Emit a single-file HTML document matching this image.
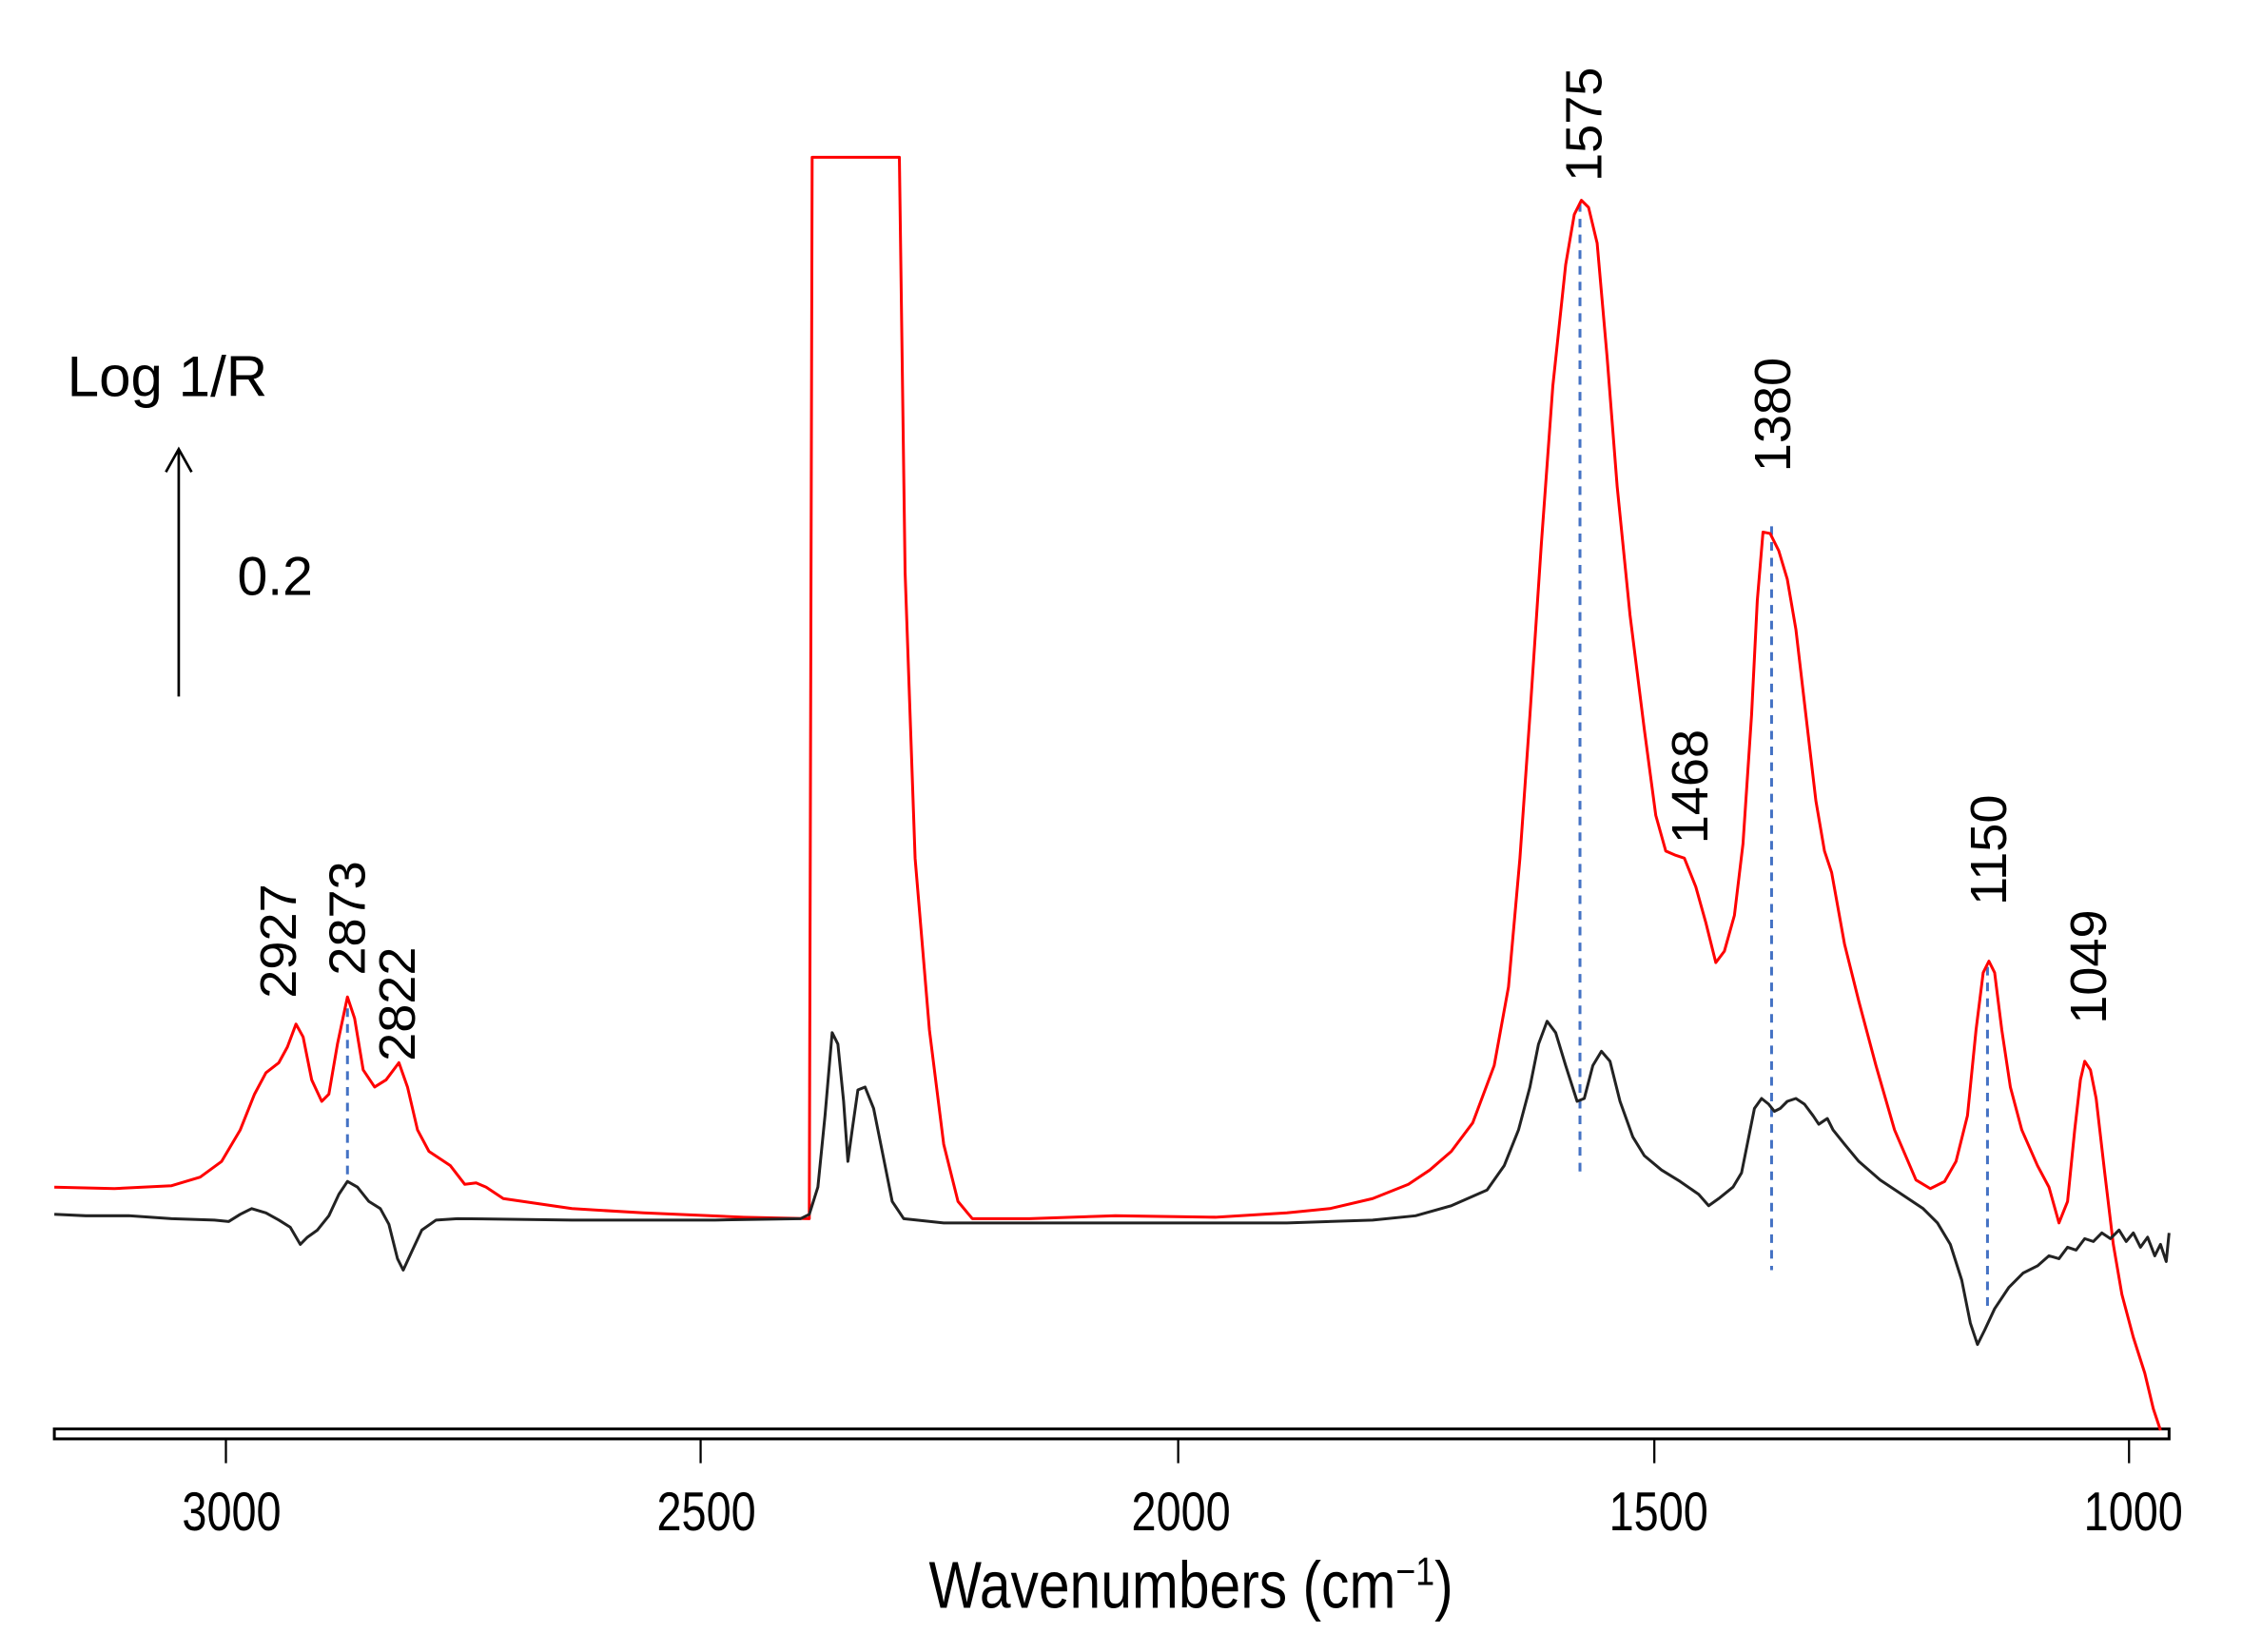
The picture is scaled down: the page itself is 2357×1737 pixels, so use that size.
<!DOCTYPE html>
<html><head><meta charset="utf-8"><style>
html,body{margin:0;padding:0;background:#fff;}
svg{display:block;}
text{font-family:"Liberation Sans","DejaVu Sans",sans-serif;fill:#000;}
</style></head><body>
<svg width="2357" height="1737" viewBox="0 0 1568 1155" preserveAspectRatio="none" xmlns="http://www.w3.org/2000/svg">
<rect width="1568" height="1155" fill="#fff"/>
<!-- axis bar -->
<rect x="38" y="999" width="1479" height="7" fill="#fff" stroke="#000" stroke-width="2"/>
<g stroke="#000" stroke-width="1.5">
<line x1="158" y1="1006" x2="158" y2="1023"/>
<line x1="490" y1="1006" x2="490" y2="1023"/>
<line x1="824" y1="1006" x2="824" y2="1023"/>
<line x1="1157" y1="1006" x2="1157" y2="1023"/>
<line x1="1489" y1="1006" x2="1489" y2="1023"/>
</g>
<g font-size="38" text-anchor="middle">
<text x="162" y="1070" transform="translate(162 0) scale(0.82 1) translate(-162 0)">3000</text>
<text x="494" y="1070" transform="translate(494 0) scale(0.82 1) translate(-494 0)">2500</text>
<text x="826" y="1070" transform="translate(826 0) scale(0.82 1) translate(-826 0)">2000</text>
<text x="1160" y="1070" transform="translate(1160 0) scale(0.82 1) translate(-1160 0)">1500</text>
<text x="1492" y="1070" transform="translate(1492 0) scale(0.82 1) translate(-1492 0)">1000</text>
</g>
<text x="833" y="1124" font-size="46" text-anchor="middle" transform="translate(833 0) scale(0.85 1) translate(-833 0)">Wavenumbers (cm<tspan font-size="28" dy="-16">−1</tspan><tspan dy="16">)</tspan></text>

<!-- Log 1/R and arrow -->
<text x="47" y="277" font-size="40">Log 1/R</text>
<line x1="125" y1="487" x2="125" y2="315" stroke="#000" stroke-width="1.8"/>
<polyline points="116,330 125,314 134,330" fill="none" stroke="#000" stroke-width="1.8"/>
<text x="166" y="416" font-size="38">0.2</text>

<!-- dashed lines -->
<g stroke="#4472c4" stroke-width="2" stroke-dasharray="6,5">
<line x1="243" y1="705" x2="243" y2="822"/>
<line x1="1105" y1="142" x2="1105" y2="822"/>
<line x1="1239" y1="368" x2="1239" y2="888"/>
<line x1="1390" y1="676" x2="1390" y2="915"/>
</g>

<!-- red spectrum -->
<polyline fill="none" stroke="#ff0000" stroke-width="2" stroke-linejoin="round" points="
38,830 80,831 120,829 140,823 155,812 168,790 178,765 186,750 195,743 201,732 207,716 212,725 218,755 225,770 230,765 236,730 243,697 248,712 254,748 262,760 270,755 279,743 285,760 292,790 300,805 315,815 325,828 333,827 340,830 352,838 400,845 450,848 520,851 566,852 568,110 629,110 633,400 640,600 650,720 660,800 670,840 680,852 720,852 780,850 850,851 900,848 930,845 960,838 985,828 1000,818 1015,805 1030,785 1045,745 1055,690 1063,600 1070,500 1078,380 1086,270 1095,185 1101,150 1106,140 1111,145 1117,170 1124,250 1131,340 1140,430 1150,510 1158,570 1165,595 1172,598 1178,600 1186,620 1193,645 1200,673 1206,665 1213,640 1219,590 1225,500 1229,420 1233,372 1238,373 1244,385 1250,405 1256,440 1263,500 1270,560 1276,595 1281,610 1290,660 1300,700 1312,745 1325,790 1340,825 1350,831 1360,826 1368,812 1376,780 1382,720 1387,680 1391,672 1395,680 1400,720 1406,760 1414,790 1425,815 1433,830 1440,855 1446,840 1451,790 1455,755 1458,742 1462,748 1466,768 1472,820 1478,870 1484,905 1492,935 1500,960 1506,985 1511,1000"/>

<!-- black spectrum -->
<polyline fill="none" stroke="#222" stroke-width="2" stroke-linejoin="round" points="
38,849 60,850 90,850 120,852 150,853 160,854 168,849 176,845 186,848 195,853 203,858 210,870 215,865 222,860 230,850 237,835 243,826 250,830 258,840 266,845 272,856 278,880 282,888 288,875 295,860 305,853 320,852 400,853 500,853 560,852 566,849 572,830 577,780 582,722 586,730 590,770 593,812 596,790 600,762 605,760 611,775 617,805 624,840 632,852 660,855 800,855 900,855 960,853 990,850 1015,843 1040,832 1052,815 1062,790 1070,760 1076,730 1082,714 1088,722 1095,745 1103,770 1108,768 1114,745 1120,735 1126,742 1133,770 1142,795 1150,808 1162,818 1175,826 1188,835 1195,843 1202,838 1212,830 1218,820 1222,800 1227,775 1232,768 1237,772 1241,777 1245,775 1250,770 1256,768 1262,772 1268,780 1272,786 1278,782 1282,790 1290,800 1300,812 1315,825 1330,835 1345,845 1355,855 1364,870 1372,895 1378,925 1383,940 1388,930 1395,915 1405,900 1415,890 1425,885 1433,878 1440,880 1446,872 1452,874 1458,866 1464,868 1470,862 1476,866 1482,860 1487,868 1492,862 1497,872 1502,865 1507,878 1511,870 1515,882 1517,862"/>

<!-- peak labels -->
<g font-size="36">
<text transform="translate(207 698) rotate(-90)">2927</text>
<text transform="translate(255 682) rotate(-90)">2873</text>
<text transform="translate(290 742) rotate(-90)">2822</text>
<text transform="translate(1120 127) rotate(-90)">1575</text>
<text transform="translate(1252 330) rotate(-90)">1380</text>
<text transform="translate(1194 590) rotate(-90)">1468</text>
<text transform="translate(1403 633) rotate(-90)">1150</text>
<text transform="translate(1473 716) rotate(-90)">1049</text>
</g>
</svg>
</body></html>
